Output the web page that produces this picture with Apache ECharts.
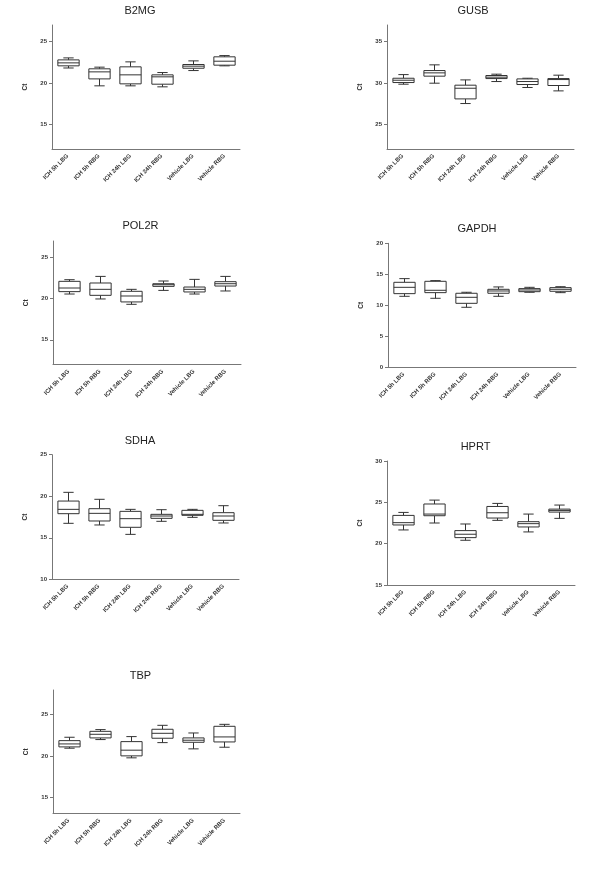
<!DOCTYPE html>
<html>
<head>
<meta charset="utf-8">
<script src="https://cdn.jsdelivr.net/npm/echarts@6/dist/echarts.min.js"></script>
<style>
html,body{margin:0;padding:0;background:#fff;}
#main{width:600px;height:879px;}
</style>
</head>
<body>
<div id="main"></div>
<script>
const CATEGORIES = ['ICH 5h LBG', 'ICH 5h RBG', 'ICH 24h LBG', 'ICH 24h RBG', 'Vehicle LBG', 'Vehicle RBG'];

// each row: [min, Q1, median, Q3, max]
const B2MG = [[21.80, 22.06, 22.42, 22.78, 23.02], [19.64, 20.48, 21.33, 21.70, 21.90], [19.64, 19.88, 20.97, 21.94, 22.54], [19.52, 19.84, 20.73, 20.97, 21.25], [21.49, 21.77, 22.02, 22.22, 22.66], [22.06, 22.14, 22.62, 23.15, 23.30]];
const GUSB = [[29.84, 30.04, 30.32, 30.56, 31.00], [29.96, 30.81, 31.21, 31.49, 32.18], [27.50, 28.06, 29.35, 29.72, 30.36], [30.16, 30.52, 30.69, 30.89, 31.05], [29.44, 29.80, 30.16, 30.48, 30.56], [29.03, 29.68, 30.40, 30.52, 30.93]];
const POL2R = [[20.56, 20.85, 21.29, 22.10, 22.30], [19.96, 20.40, 21.13, 21.90, 22.70], [19.31, 19.60, 20.32, 20.89, 21.13], [21.00, 21.49, 21.69, 21.81, 22.14], [20.56, 20.81, 21.13, 21.41, 22.34], [20.93, 21.53, 21.81, 22.06, 22.70]];
const GAPDH = [[11.45, 11.88, 12.90, 13.71, 14.30], [11.13, 12.04, 12.42, 13.87, 13.98], [9.68, 10.32, 11.29, 11.94, 12.10], [11.45, 11.94, 12.31, 12.58, 12.96], [12.10, 12.20, 12.47, 12.69, 12.90], [12.04, 12.26, 12.58, 12.85, 13.00]];
const SDHA = [[16.74, 17.90, 18.42, 19.42, 20.47], [16.54, 17.02, 17.94, 18.50, 19.63], [15.41, 16.26, 17.30, 18.18, 18.42], [16.98, 17.34, 17.62, 17.82, 18.38], [17.46, 17.70, 17.82, 18.30, 18.42], [16.78, 17.10, 17.62, 18.02, 18.86]];
const HPRT = [[21.66, 22.26, 22.54, 23.42, 23.78], [22.50, 23.38, 23.58, 24.80, 25.27], [20.41, 20.73, 21.14, 21.58, 22.38], [22.82, 23.10, 23.74, 24.50, 24.87], [21.42, 22.02, 22.42, 22.66, 23.58], [23.06, 23.82, 24.02, 24.18, 24.67]];
const TBP = [[20.93, 21.09, 21.45, 21.85, 22.26], [21.98, 22.18, 22.62, 22.98, 23.19], [19.76, 20.00, 20.69, 21.73, 22.34], [21.61, 22.14, 22.74, 23.23, 23.71], [20.85, 21.65, 21.90, 22.18, 22.78], [21.05, 21.69, 22.30, 23.59, 23.83]];

// y tick labels per panel
const TICKS_B2MG = [15, 20, 25];
const TICKS_GUSB = [25, 30, 35];
const TICKS_POL2R = [15, 20, 25];
const TICKS_GAPDH = [0, 5, 10, 15, 20];
const TICKS_SDHA = [10, 15, 20, 25];
const TICKS_HPRT = [15, 20, 25, 30];
const TICKS_TBP = [15, 20, 25];

const FONT = '"Liberation Sans", Arial, sans-serif';

const panels = [
  {name: 'B2MG', data: B2MG, ticks: TICKS_B2MG, min: 12, max: 27, grid: {left: 52, top: 25, width: 188, height: 124}, title: [140, 11]},
  {name: 'GUSB', data: GUSB, ticks: TICKS_GUSB, min: 22, max: 37, grid: {left: 387, top: 25, width: 187, height: 124}, title: [473, 11]},
  {name: 'POL2R', data: POL2R, ticks: TICKS_POL2R, min: 12, max: 27, grid: {left: 53, top: 241, width: 188, height: 123.5}, title: [140.5, 226]},
  {name: 'GAPDH', data: GAPDH, ticks: TICKS_GAPDH, min: 0, max: 20, grid: {left: 388, top: 243.3, width: 188, height: 124}, title: [477, 229]},
  {name: 'SDHA', data: SDHA, ticks: TICKS_SDHA, min: 10, max: 25, grid: {left: 52, top: 454.7, width: 187, height: 124.6}, title: [140, 440.7]},
  {name: 'HPRT', data: HPRT, ticks: TICKS_HPRT, min: 15, max: 30, grid: {left: 387, top: 461, width: 188, height: 124}, title: [475.5, 447]},
  {name: 'TBP', data: TBP, ticks: TICKS_TBP, min: 13, max: 28, grid: {left: 53, top: 690, width: 187, height: 123.5}, title: [140.5, 676]}
];

function renderBox(params, api) {
  const idx = api.value(0);
  const band = api.size([1, 0])[0];
  const bw = band * 0.68;
  const cw = band * 0.33;
  const pMin = api.coord([idx, api.value(1)]);
  const pQ1 = api.coord([idx, api.value(2)]);
  const pMed = api.coord([idx, api.value(3)]);
  const pQ3 = api.coord([idx, api.value(4)]);
  const pMax = api.coord([idx, api.value(5)]);
  const x = Math.round(pMin[0]) + 0.5;
  const st = {stroke: '#333', lineWidth: 1, fill: null};
  const ln = (x1, y1, x2, y2) => ({type: 'line', shape: {x1, y1, x2, y2}, style: st});
  return {
    type: 'group',
    children: [
      ln(x, pMin[1], x, pQ1[1]),
      ln(x, pQ3[1], x, pMax[1]),
      ln(x - cw / 2, pMin[1], x + cw / 2, pMin[1]),
      ln(x - cw / 2, pMax[1], x + cw / 2, pMax[1]),
      {type: 'rect', shape: {x: x - bw / 2, y: pQ3[1], width: bw, height: pQ1[1] - pQ3[1]}, style: {stroke: '#333', lineWidth: 1, fill: '#fff'}},
      ln(x - bw / 2, pMed[1], x + bw / 2, pMed[1])
    ]
  };
}

const option = {
  animation: false,
  backgroundColor: '#fff',
  grid: [], xAxis: [], yAxis: [], series: [], graphic: []
};

panels.forEach((p, i) => {
  option.grid.push(Object.assign({containLabel: false}, p.grid));
  option.xAxis.push({
    type: 'category', gridIndex: i, data: CATEGORIES, boundaryGap: true,
    axisLine: {lineStyle: {color: '#777', width: 1}},
    axisTick: {alignWithLabel: true, length: 3, lineStyle: {color: '#777'}},
    axisLabel: {rotate: 45, margin: 6, fontSize: 6, fontWeight: 'bold', color: '#333', fontFamily: FONT, interval: 0},
    splitLine: {show: false}
  });
  option.yAxis.push({
    type: 'value', gridIndex: i, min: p.min, max: p.max,
    name: 'Ct', nameLocation: 'middle', nameRotate: 90, nameGap: 23,
    nameTextStyle: {fontSize: 6.5, fontWeight: 'bold', color: '#333', fontFamily: FONT},
    axisLine: {show: true, lineStyle: {color: '#777', width: 1}},
    axisTick: {show: true, length: 3, customValues: p.ticks, lineStyle: {color: '#777'}},
    axisLabel: {customValues: p.ticks, margin: 5, fontSize: 6, fontWeight: 'bold', color: '#333', fontFamily: FONT},
    splitLine: {show: false}
  });
  option.series.push({
    type: 'custom', name: p.name, xAxisIndex: i, yAxisIndex: i,
    renderItem: renderBox,
    encode: {x: 0, y: [1, 2, 3, 4, 5]},
    data: p.data.map((v, k) => [k].concat(v))
  });
  option.graphic.push({
    type: 'text', x: p.title[0], y: p.title[1],
    style: {text: p.name, fontSize: 11, fontFamily: FONT, fill: '#222', align: 'center', verticalAlign: 'middle'}
  });
});

const chart = echarts.init(document.getElementById('main'), null, {renderer: 'canvas'});
chart.setOption(option);
</script>
</body>
</html>
